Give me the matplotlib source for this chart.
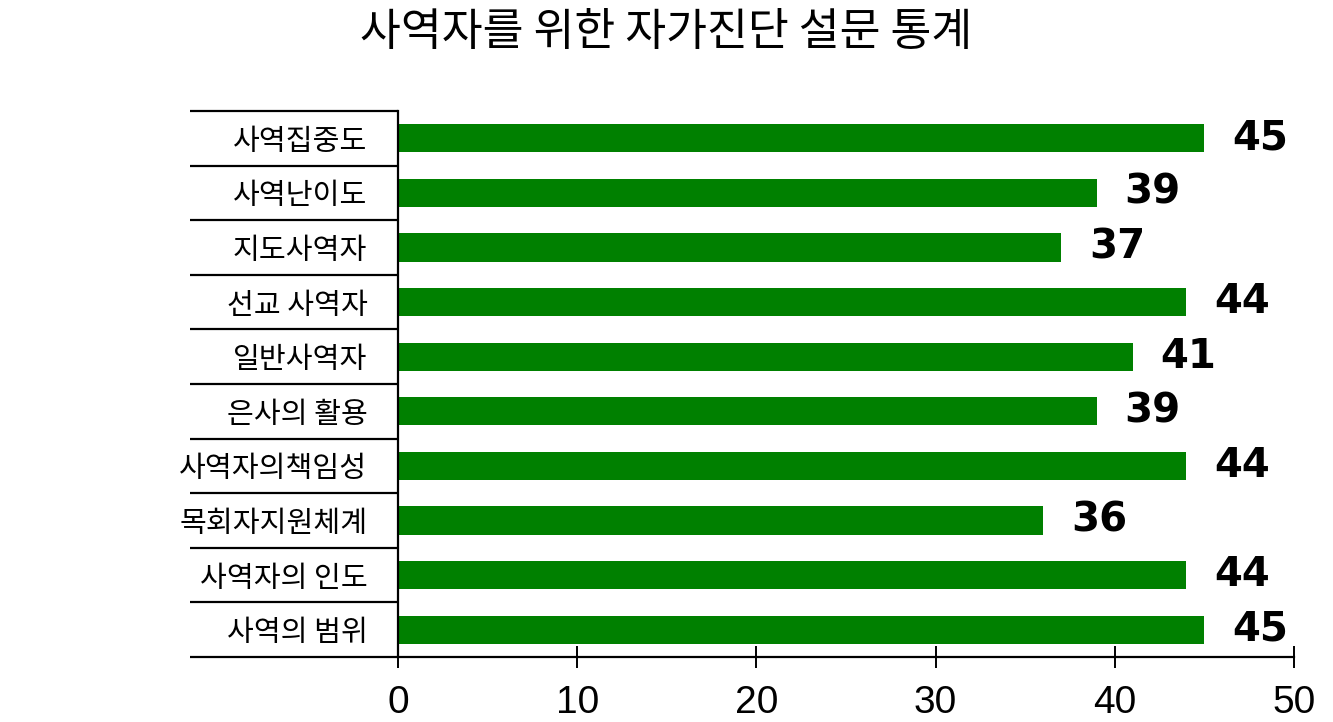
import matplotlib
matplotlib.use("Agg")
import matplotlib.pyplot as plt
from matplotlib import font_manager

# --- Data ---
TITLE = "사역자를 위한 자가진단 설문 통계"
CATEGORIES = [
    "사역집중도",
    "사역난이도",
    "지도사역자",
    "선교 사역자",
    "일반사역자",
    "은사의 활용",
    "사역자의책임성",
    "목회자지원체계",
    "사역자의 인도",
    "사역의 범위",
]
VALUES = [45, 39, 37, 44, 41, 39, 44, 36, 44, 45]
X_TICKS = [0, 10, 20, 30, 40, 50]

BAR_COLOR = "#008000"
KOREAN_FONT = ["Noto Sans CJK KR", "DejaVu Sans"]

# Narrow font for the axis digits if available
names = {f.name for f in font_manager.fontManager.ttflist}
TICK_FONT = "Liberation Sans Narrow" if "Liberation Sans Narrow" in names else "Liberation Sans"

W, H = 1333, 722
fig = plt.figure(figsize=(W / 100, H / 100), dpi=100)
left_px, right_px, top_px, bottom_px = 398, 1294, 111, 657
ax = fig.add_axes([left_px / W, 1 - bottom_px / H,
                   (right_px - left_px) / W, (bottom_px - top_px) / H])

y = list(range(len(CATEGORIES)))
ax.barh(y, VALUES, height=0.52, color=BAR_COLOR, zorder=2)

# value labels to the right of each bar
for yi, v in zip(y, VALUES):
    ax.annotate(str(v), xy=(v, yi), xytext=(20, 0), textcoords="offset points",
                ha="left", va="center", fontsize=29, fontweight="heavy",
                family="DejaVu Sans", color="black")

ax.set_xlim(0, 50)
ax.set_ylim(len(CATEGORIES) - 0.5, -0.5)

ax.spines["top"].set_visible(False)
ax.spines["right"].set_visible(False)
for s in ("left", "bottom"):
    ax.spines[s].set_linewidth(1.6)
    ax.spines[s].set_color("black")

# separator lines between category labels, extended to the left of the axis
ext = -(left_px - 190) / (right_px - left_px)
trans = ax.get_yaxis_transform()
for b in [k - 0.5 for k in range(len(CATEGORIES) + 1)]:
    ax.plot([ext, 0], [b, b], transform=trans, color="black", lw=1.6,
            clip_on=False, solid_capstyle="butt")

ax.set_yticks(y)
ax.set_yticklabels(CATEGORIES, family=KOREAN_FONT, fontsize=21)
ax.tick_params(axis="y", length=0, pad=22)

ax.set_xticks(X_TICKS)
ax.set_xticklabels([str(t) for t in X_TICKS], family=TICK_FONT, fontsize=28)
ax.tick_params(axis="x", direction="inout", length=16, width=1.4, pad=12)

fig.text(0.5, 1 - 32 / H, TITLE, ha="center", va="center",
         family=KOREAN_FONT, fontsize=32, color="black")

fig.savefig("out.png", dpi=100, facecolor="white")
